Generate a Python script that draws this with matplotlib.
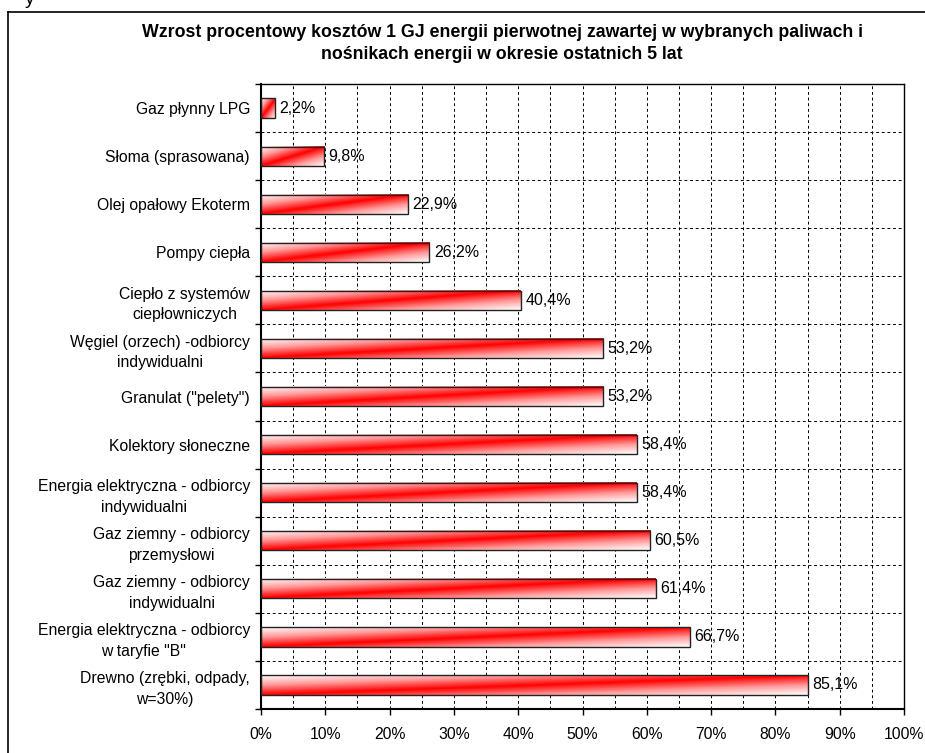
import numpy as np
import matplotlib
matplotlib.use("Agg")
import matplotlib.pyplot as plt
from matplotlib.colors import LinearSegmentedColormap
from matplotlib.patches import Rectangle
from matplotlib.ticker import MultipleLocator, FixedLocator, FuncFormatter
from matplotlib.lines import Line2D

plt.rcParams['font.family'] = ['Liberation Sans', 'DejaVu Sans']

categories = [
    "Gaz płynny LPG",
    "Słoma (sprasowana)",
    "Olej opałowy Ekoterm",
    "Pompy ciepła",
    "Ciepło z systemów\nciepłowniczych",
    "Węgiel (orzech) -odbiorcy\nindywidualni",
    "Granulat (\"pelety\")",
    "Kolektory słoneczne",
    "Energia elektryczna - odbiorcy\nindywidualni",
    "Gaz ziemny - odbiorcy\nprzemysłowi",
    "Gaz ziemny - odbiorcy\nindywidualni",
    "Energia elektryczna - odbiorcy\nw taryfie \"B\"",
    "Drewno (zrębki, odpady,\nw=30%)",
]
values = [2.2, 9.8, 22.9, 26.2, 40.4, 53.2, 53.2, 58.4, 58.4, 60.5, 61.4, 66.7, 85.1]
x_ticks = [0, 10, 20, 30, 40, 50, 60, 70, 80, 90, 100]
title = ("Wzrost procentowy kosztów 1 GJ energii pierwotnej zawartej w wybranych paliwach i\n"
         "nośnikach energii w okresie ostatnich 5 lat")

W, H = 925, 753
fig = plt.figure(figsize=(W / 100, H / 100), dpi=100)
ax = fig.add_axes([261 / W, 1 - 709 / H, (904 - 261) / W, (709 - 84) / H])

cmap = LinearSegmentedColormap.from_list("wr", ["#ff0000", "#ff9a9a", "#ffffff"])
n = len(categories)
ypos = [n - 1 - i for i in range(n)]
h = 0.4
for y, v in zip(ypos, values):
    u = np.linspace(0, 1, 200)
    w = np.linspace(0, 1, 40)
    t = np.abs(w[:, None] - u[None, :])
    ax.imshow(t, cmap=cmap, vmin=0, vmax=1, extent=(0, v, y - h / 2, y + h / 2),
              origin='lower', aspect='auto', interpolation='bilinear', zorder=2)
    ax.add_patch(Rectangle((0, y - h / 2), v, h, facecolor='none', edgecolor='#222222',
                           lw=1.0, zorder=3))
    ax.text(v + 0.7, y, f"{v:.1f}%".replace('.', ','), va='center', ha='left',
            fontsize=11.5, zorder=4)

ax.set_xlim(0, 100)
ax.set_ylim(-0.5, n - 0.5)
ax.set_aspect('auto')

ax.xaxis.set_major_locator(FixedLocator(x_ticks))
ax.xaxis.set_minor_locator(MultipleLocator(5))
ax.xaxis.set_major_formatter(FuncFormatter(lambda x, p: f"{int(x)}%"))
ax.set_yticks(ypos)
ax.set_yticklabels(categories, multialignment='center', fontsize=11.3, linespacing=1.45)
ax.yaxis.set_minor_locator(FixedLocator(np.arange(-0.5, n, 1.0)))

ax.tick_params(axis='y', which='major', length=0, pad=8)
ax.tick_params(axis='y', which='minor', length=4, width=1, direction='out')
ax.tick_params(axis='x', which='major', length=4, width=1, direction='out', pad=9, labelsize=11.3)
ax.tick_params(axis='x', which='minor', length=0)

ax.set_axisbelow(True)
dash = (0, (3, 2.8))
ax.grid(True, axis='x', which='both', color='black', lw=0.7, linestyle=dash)
ax.grid(True, axis='y', which='minor', color='black', lw=0.7, linestyle=dash)
ax.grid(False, axis='y', which='major')

for s in ax.spines.values():
    s.set_color('black')
    s.set_linewidth(1.0)
ax.spines['left'].set_linewidth(1.5)
ax.spines['bottom'].set_linewidth(1.5)

fig.text(502 / W, 1 - 43.5 / H, title, ha='center', va='center', fontsize=12.8,
         fontweight='bold', linespacing=1.35)

# outer frame
fig.add_artist(Line2D([8 / W, 8 / W], [0, 1 - 12 / H], color='black', lw=1.2,
                      transform=fig.transFigure))
fig.add_artist(Line2D([8 / W, 1], [1 - 12 / H, 1 - 12 / H], color='black', lw=1.2,
                      transform=fig.transFigure))
fig.text(25 / W, 1 - 4 / H, "y", ha='left', va='baseline', fontsize=14)

fig.savefig("out.png", dpi=100)
